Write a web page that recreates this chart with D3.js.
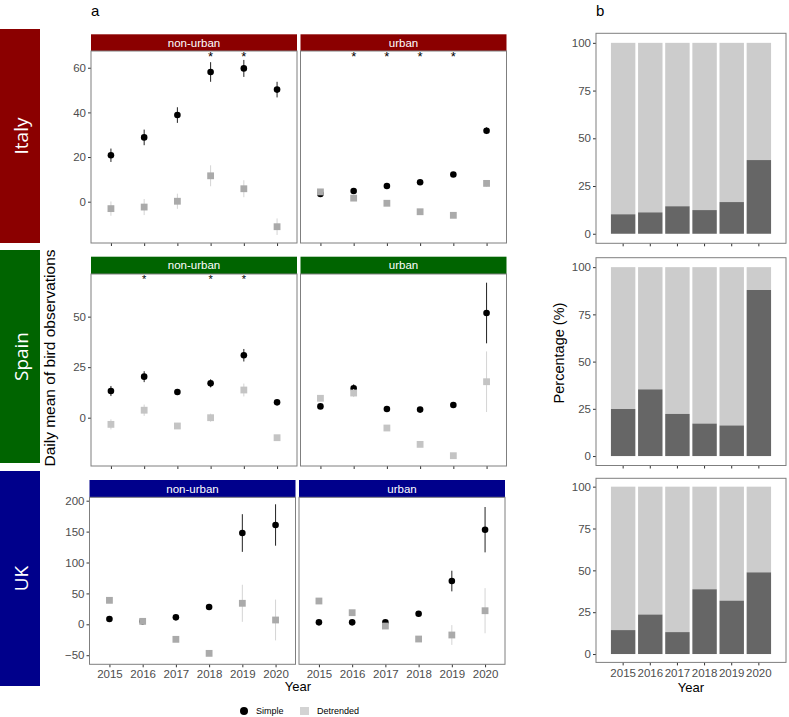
<!DOCTYPE html>
<html><head><meta charset="utf-8">
<script src="https://cdn.jsdelivr.net/npm/d3@7"></script>
<style>body{margin:0;background:#fff}svg{display:block;font-family:"Liberation Sans",Arial,sans-serif}</style>
</head><body><svg id="chart" width="789" height="717"></svg>
<script>
// ---------------- DATA ----------------
const years = ["2015","2016","2017","2018","2019","2020"];
const countries = ["Italy","Spain","UK"];
const facets = ["non-urban","urban"];

// Italy
const italyNonUrbanSimple    = [20.8, 28.8, 38.8, 58.1, 59.7, 50.2];
const italyNonUrbanSimpleErr = [3.0, 3.5, 3.5, 4.4, 3.8, 3.5];
const italyNonUrbanDetr      = [-3.1, -2.4, 0.2, 11.6, 5.8, -11.2];
const italyNonUrbanDetrErr   = [3.2, 3.6, 3.4, 4.7, 3.8, 3.7];
const italyUrbanSimple       = [3.5, 4.8, 7.0, 8.7, 12.2, 31.8];
const italyUrbanSimpleErr    = [0.8, 0.8, 0.8, 0.8, 0.9, 1.5];
const italyUrbanDetr         = [4.4, 1.6, -0.7, -4.5, -6.1, 8.2];
const italyUrbanDetrErr      = [0.8, 0.8, 0.8, 0.8, 0.9, 1.5];
const italyNonUrbanStars = ["2018","2019"];
const italyUrbanStars    = ["2016","2017","2018","2019"];
const italyTicks = [0, 20, 40, 60];

// Spain
const spainNonUrbanSimple    = [13.2, 20.3, 12.7, 17.0, 30.9, 7.6];
const spainNonUrbanSimpleErr = [2.5, 2.7, 1.5, 2.0, 3.1, 1.0];
const spainNonUrbanDetr      = [-3.3, 3.7, -4.1, 0.0, 13.7, -9.9];
const spainNonUrbanDetrErr   = [2.5, 2.8, 1.5, 2.0, 3.2, 1.0];
const spainUrbanSimple       = [5.6, 14.5, 4.3, 4.0, 6.3, 51.8];
const spainUrbanSimpleErr    = [1.0, 2.0, 0.8, 0.8, 1.0, 15.0];
const spainUrbanDetr         = [9.6, 12.2, -5.1, -13.2, -18.8, 17.8];
const spainUrbanDetrErr      = [1.0, 2.0, 0.8, 0.8, 1.0, 15.0];
const spainNonUrbanStars = ["2016","2018","2019"];
const spainUrbanStars    = [];
const spainTicks = [0, 25, 50];

// UK
const ukNonUrbanSimple    = [8.6, 4.8, 11.3, 28.0, 147.7, 160.7];
const ukNonUrbanSimpleErr = [3, 3, 3, 3, 30.5, 33.5];
const ukNonUrbanDetr      = [38.8, 4.8, -24.3, -47.0, 34.0, 7.0];
const ukNonUrbanDetrErr   = [3, 3, 3, 3, 30.0, 33.0];
const ukUrbanSimple       = [3.2, 3.2, 3.2, 17.2, 70.0, 153.1];
const ukUrbanSimpleErr    = [2, 2, 2, 3, 16.7, 36.7];
const ukUrbanDetr         = [37.7, 18.8, -2.8, -23.8, -17.3, 22.0];
const ukUrbanDetrErr      = [2, 2, 2, 3, 16.0, 36.5];
const ukNonUrbanStars = [];
const ukUrbanStars    = [];
const ukTicks = [-50, 0, 50, 100, 150, 200];

// Percentage bars (dark share, %)
const italyPct = [10.2, 11.2, 14.4, 12.4, 16.6, 38.6];
const spainPct = [24.9, 35.3, 22.3, 17.2, 16.2, 87.9];
const ukPct    = [14.3, 23.6, 13.1, 38.7, 31.9, 48.8];
const pctTicks = [0, 25, 50, 75, 100];

const legendLabels = ["Simple", "Detrended"];

// ---------------- LAYOUT ----------------
const colors = {Italy:"#8b0000", Spain:"#006400", UK:"#00008b"};
const rows = [
  {name:"Italy", boxY:[29,243], stripTop:34.3, top:51, bottom:243, left:91, domain:[-18.5,67.5], ticks:italyTicks, starY:65.7, sq:"#aaaaaa", star:13,
   data:[[italyNonUrbanSimple,italyNonUrbanSimpleErr,italyNonUrbanDetr,italyNonUrbanDetrErr,italyNonUrbanStars],
         [italyUrbanSimple,italyUrbanSimpleErr,italyUrbanDetr,italyUrbanDetrErr,italyUrbanStars]],
   pct:italyPct, bar:{top:33.3,bottom:243.3}},
  {name:"Spain", boxY:[250,463], stripTop:256.7, top:274, bottom:466, left:91, domain:[-23.9,71.1], ticks:spainTicks, starY:69.5, sq:"#c4c4c4", star:11,
   data:[[spainNonUrbanSimple,spainNonUrbanSimpleErr,spainNonUrbanDetr,spainNonUrbanDetrErr,spainNonUrbanStars],
         [spainUrbanSimple,spainUrbanSimpleErr,spainUrbanDetr,spainUrbanDetrErr,spainUrbanStars]],
   pct:spainPct, bar:{top:257.7,bottom:465.5}},
  {name:"UK", boxY:[471,686], stripTop:480, top:497.3, bottom:664.3, left:89.5, domain:[-64.7,205.5], ticks:ukTicks, starY:200, sq:"#aaaaaa", star:12,
   data:[[ukNonUrbanSimple,ukNonUrbanSimpleErr,ukNonUrbanDetr,ukNonUrbanDetrErr,ukNonUrbanStars],
         [ukUrbanSimple,ukUrbanSimpleErr,ukUrbanDetr,ukUrbanDetrErr,ukUrbanStars]],
   pct:ukPct, bar:{top:478.3,bottom:662.4}, xlabels:true}
];
const panelW = 206, panelGap = 3.5;
const tickCol = "#4d4d4d", borderCol = "#7f7f7f";
const svg = d3.select("#chart");

svg.append("text").attr("x",91).attr("y",16).attr("font-size",15).text("a");
svg.append("text").attr("x",596).attr("y",16).attr("font-size",15).text("b");

rows.forEach(r => {
  // country box
  svg.append("rect").attr("x",0).attr("y",r.boxY[0]).attr("width",40).attr("height",r.boxY[1]-r.boxY[0]).attr("fill",colors[r.name]);
  const cy = (r.boxY[0]+r.boxY[1])/2;
  svg.append("text").attr("transform",`translate(21,${cy}) rotate(-90)`).attr("text-anchor","middle").attr("dominant-baseline","central")
    .attr("fill","#fff").attr("font-size",19).attr("font-family","'Open Sans','Noto Sans',sans-serif").text(r.name);

  const y = d3.scaleLinear().domain(r.domain).range([r.bottom, r.top]);
  facets.forEach((f, fi) => {
    const x0 = r.left + fi*(panelW+panelGap);
    const x = d3.scalePoint().domain(years).range([x0, x0+panelW]).padding(0.6);
    const g = svg.append("g");
    // strip
    g.append("rect").attr("x",x0).attr("y",r.stripTop).attr("width",panelW).attr("height",r.top-r.stripTop).attr("fill",colors[r.name]);
    g.append("text").attr("x",x0+panelW/2).attr("y",(r.stripTop+r.top)/2).attr("text-anchor","middle").attr("dominant-baseline","central")
      .attr("fill","#fff").attr("font-size",11.5).text(f);
    // axes
    if (fi===0) {
      const ax = g.append("g").attr("transform",`translate(${x0},0)`).call(d3.axisLeft(y).tickValues(r.ticks).tickSize(3).tickPadding(2));
      ax.select(".domain").remove();
      ax.selectAll("line").attr("stroke","#333");
      ax.selectAll("text").attr("fill",tickCol).attr("font-size",11.5).attr("font-family","'Liberation Sans',Arial,sans-serif");
    }
    const bx = g.append("g").attr("transform",`translate(0,${r.bottom})`).call(d3.axisBottom(x).tickSize(3).tickPadding(3));
    bx.select(".domain").remove();
    bx.selectAll("line").attr("stroke","#333");
    bx.selectAll("text").attr("fill",tickCol).attr("font-size",11.5).attr("font-family","'Liberation Sans',Arial,sans-serif");
    if (!r.xlabels) bx.selectAll("text").remove();

    const [s, se, d, de, stars] = r.data[fi];
    // error bars + points
    g.selectAll(".es").data(years).enter().append("line")
      .attr("x1",yr=>x(yr)).attr("x2",yr=>x(yr))
      .attr("y1",(yr,i)=>y(s[i]-se[i])).attr("y2",(yr,i)=>y(s[i]+se[i]))
      .attr("stroke","#222").attr("stroke-width",1);
    g.selectAll(".pt").data(years).enter().append("circle")
      .attr("cx",yr=>x(yr)).attr("cy",(yr,i)=>y(s[i])).attr("r",3.3).attr("fill","#000");
    g.selectAll(".ed").data(years).enter().append("line")
      .attr("x1",yr=>x(yr)).attr("x2",yr=>x(yr))
      .attr("y1",(yr,i)=>y(d[i]-de[i])).attr("y2",(yr,i)=>y(d[i]+de[i]))
      .attr("stroke","#d4d4d4").attr("stroke-width",1);
    g.selectAll(".sq").data(years).enter().append("rect")
      .attr("x",yr=>x(yr)-3.4).attr("y",(yr,i)=>y(d[i])-3.4).attr("width",6.8).attr("height",6.8).attr("fill",r.sq);
    g.selectAll(".star").data(stars).enter().append("text")
      .attr("x",yr=>x(yr)).attr("y",y(r.starY)+5.5).attr("text-anchor","middle").attr("font-size",r.star).text("*");
    // border
    g.append("rect").attr("x",x0).attr("y",r.top).attr("width",panelW).attr("height",r.bottom-r.top)
      .attr("fill","none").attr("stroke",borderCol).attr("stroke-width",1);
  });

  // bar chart
  const bl = 596, br = 786;
  const xb = d3.scaleBand().domain(years).range([bl, br]).paddingInner(0.1).paddingOuter(0.55);
  const yb = d3.scaleLinear().domain([-5,105]).range([r.bar.bottom, r.bar.top]);
  const gb = svg.append("g");
  gb.selectAll(".bl").data(years).enter().append("rect")
    .attr("x",yr=>xb(yr)).attr("width",xb.bandwidth())
    .attr("y",yb(100)).attr("height",(yr,i)=>yb(r.pct[i])-yb(100)).attr("fill","#cccccc");
  gb.selectAll(".bd").data(years).enter().append("rect")
    .attr("x",yr=>xb(yr)).attr("width",xb.bandwidth())
    .attr("y",(yr,i)=>yb(r.pct[i])).attr("height",(yr,i)=>yb(0)-yb(r.pct[i])).attr("fill","#666666");
  const ay = gb.append("g").attr("transform",`translate(${bl},0)`).call(d3.axisLeft(yb).tickValues(pctTicks).tickSize(3).tickPadding(2));
  ay.select(".domain").remove();
  ay.selectAll("line").attr("stroke","#333");
  ay.selectAll("text").attr("fill",tickCol).attr("font-size",11.5);
  const axb = gb.append("g").attr("transform",`translate(0,${r.bar.bottom})`).call(d3.axisBottom(xb).tickSize(3).tickPadding(3));
  axb.select(".domain").remove();
  axb.selectAll("line").attr("stroke","#333");
  axb.selectAll("text").attr("fill",tickCol).attr("font-size",11.5);
  if (!r.xlabels) axb.selectAll("text").remove();
  gb.append("rect").attr("x",bl).attr("y",r.bar.top).attr("width",br-bl).attr("height",r.bar.bottom-r.bar.top)
    .attr("fill","none").attr("stroke",borderCol).attr("stroke-width",1);
});

// axis titles
svg.append("text").attr("transform","translate(55,358) rotate(-90)").attr("text-anchor","middle").attr("font-size",15.5).text("Daily mean of bird observations");
svg.append("text").attr("transform","translate(564,353) rotate(-90)").attr("text-anchor","middle").attr("font-size",14.5).text("Percentage (%)");
svg.append("text").attr("x",298).attr("y",691).attr("text-anchor","middle").attr("font-size",13).text("Year");
svg.append("text").attr("x",691).attr("y",692).attr("text-anchor","middle").attr("font-size",13).text("Year");

// legend
const lg = svg.append("g");
lg.append("circle").attr("cx",244).attr("cy",711).attr("r",4).attr("fill","#000");
lg.append("text").attr("x",256).attr("y",714).attr("font-size",9).text(legendLabels[0]);
lg.append("rect").attr("x",300).attr("y",707).attr("width",9).attr("height",8).attr("fill","#d3d3d3");
lg.append("text").attr("x",317).attr("y",714).attr("font-size",9).text(legendLabels[1]);
</script></body></html>
